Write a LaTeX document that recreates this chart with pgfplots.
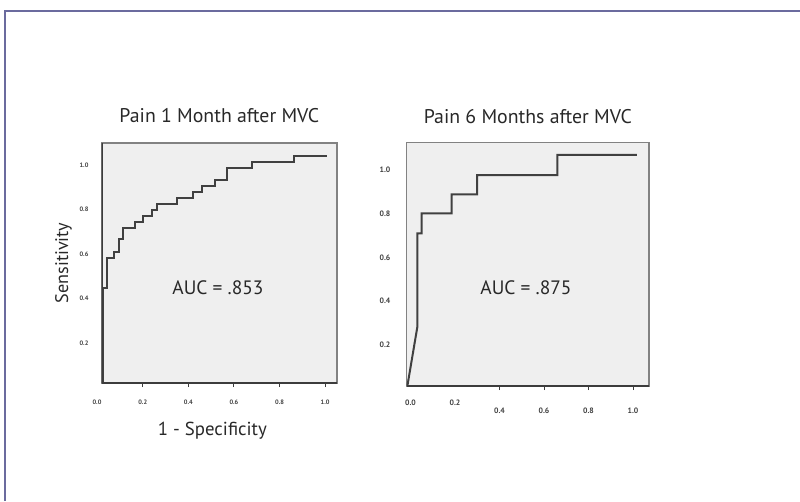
\documentclass[border=0pt]{standalone}
\usepackage{fontspec}
\setmainfont{PT Sans}
\usepackage{pgfplots}
\pgfplotsset{compat=1.18}
\definecolor{frame}{RGB}{107,107,158}
\definecolor{panel}{RGB}{239,239,239}
\definecolor{curve}{RGB}{64,64,64}
\definecolor{spine}{RGB}{60,60,60}
\definecolor{lspine}{RGB}{130,130,130}
\definecolor{txt}{RGB}{40,40,40}
\begin{document}
\begin{tikzpicture}[x=1pt,y=1pt]
\path[use as bounding box] (0,0) rectangle (800,501);
\draw[frame, line width=2pt] (5,0) -- (5,490) -- (800,490);
\pgfplotsset{
  rocstyle/.style={
    scale only axis,
    anchor=south west,
    axis background/.style={fill=panel},
    axis line style={draw=lspine, line width=1.1pt},
    /pgf/number format/assume math mode=true,
    /pgf/number format/fixed, /pgf/number format/fixed zerofill,
    /pgf/number format/precision=1,
    tick label style={font=\fontsize{6.4}{7}\selectfont\bfseries, text=black!75},
    ytick={0.2,0.4,0.6,0.8,1.0},
    ytick style={draw=none},
    xtick style={draw=spine, line width=0.9pt},
    xtick pos=bottom, ytick pos=left,
    tick align=outside,
    major tick length=4pt,
    title style={font=\fontsize{19.8}{23}\selectfont, text=txt, anchor=center, at={(0.5,1)}},
    clip=true,
  }
}
% Left panel
\begin{axis}[rocstyle,
  at={(101.7pt,118pt)}, width=235.3pt, height=240pt,
  xmin=0.02, xmax=1.052, ymin=0.02, ymax=1.099,
  xtick={0.2,0.4,0.6,0.8,1.0},
  xticklabel style={anchor=center, yshift=-15.7pt},
  yticklabel style={anchor=center, xshift=-13.7pt},
  title={Pain 1 Month after MVC},
  title style={yshift=21pt},
  xlabel={1 - Specificity},
  xlabel style={font=\fontsize{18.8}{22}\selectfont, text=txt, at={(axis description cs:0.5,0)}, anchor=base, yshift=-52pt, xshift=-7pt},
  ylabel={Sensitivity},
  ylabel style={font=\fontsize{18.2}{22}\selectfont, text=txt, at={(axis description cs:-0.143,0.5)}, anchor=base},
]
\addplot[curve, line width=2pt, line join=miter] coordinates {
(0.027,0.02) (0.027,0.446) (0.042,0.446) (0.042,0.583) (0.075,0.583) (0.075,0.610)
(0.097,0.610) (0.097,0.667) (0.112,0.667) (0.112,0.718) (0.166,0.718) (0.166,0.745)
(0.203,0.745) (0.203,0.771) (0.239,0.771) (0.239,0.798) (0.264,0.798) (0.264,0.825)
(0.352,0.825) (0.352,0.850) (0.422,0.850) (0.422,0.877) (0.459,0.877) (0.459,0.906)
(0.517,0.906) (0.517,0.933) (0.568,0.933) (0.568,0.985) (0.678,0.985) (0.678,1.015)
(0.864,1.015) (0.864,1.040) (1.007,1.040)
};
\draw[spine, line width=2.2pt] (rel axis cs:0,0) -- (rel axis cs:0,1);
\draw[spine, line width=1.5pt] (rel axis cs:0,0) -- (rel axis cs:1,0);
\node[font=\fontsize{19.4}{22}\selectfont, text=txt] at (axis cs:0.53,0.447) {AUC = .853};
\end{axis}
\node[font=\fontsize{6.4}{7}\selectfont\bfseries, text=black!75] at (97,98.3) {0.0};
% Right panel
\begin{axis}[rocstyle,
  at={(406.7pt,115pt)}, width=242.3pt, height=243.3pt,
  xmin=-0.017, xmax=1.072, ymin=0.014, ymax=1.122,
  tick label style={font=\fontsize{7.8}{9}\selectfont\bfseries, text=black!75},
  xtick={0,0.2},
  xticklabel style={anchor=center, yshift=-12.7pt},
  major x tick style={draw=none},
  extra x ticks={0.4,0.6,0.8,1.0},
  extra x tick style={major x tick style={draw=spine, line width=0.9pt}, xticklabel style={yshift=-8pt}},
  yticklabel style={anchor=center, xshift=-17.7pt},
  title={Pain 6 Months after MVC},
  title style={yshift=20.3pt},
]
\addplot[curve, line width=2pt, line join=miter] coordinates {
(-0.014,0.014) (0.031,0.284) (0.031,0.709) (0.050,0.709) (0.050,0.800) (0.185,0.800)
(0.185,0.887) (0.300,0.887) (0.300,0.974) (0.660,0.974) (0.660,1.066) (1.017,1.066)
};
\draw[spine, line width=1.5pt] (rel axis cs:0,0) -- (rel axis cs:1,0);
\node[font=\fontsize{19.4}{22}\selectfont, text=txt] at (axis cs:0.519,0.46) {AUC = .875};
\end{axis}
\end{tikzpicture}
\end{document}
